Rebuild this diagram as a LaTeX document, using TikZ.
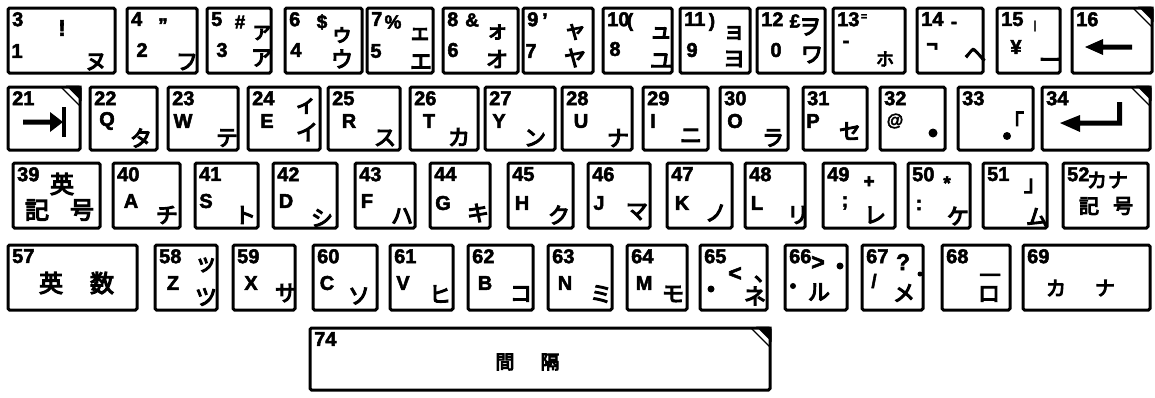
\documentclass[tikz,border=0pt]{standalone}
\usepackage{fontspec}
\setmainfont{Liberation Sans}[BoldFeatures={FakeBold=2.5}]
\newfontfamily\jpfont{Noto Sans CJK JP}[AutoFakeBold=5, BoldFeatures={FakeBold=2}]
\usetikzlibrary{fit}
\newcommand\kb[6]{%
  \node[keybox, fit={(#2,#3) (#4,#5)}] (#1) {};
  \node[code] (#1c) at ({#2+4},{#3+4}) {#6};}
\newcommand\ear[1]{%
  \draw[line width=1.2pt] ([xshift=-19pt]#1.north east) -- ([yshift=-19pt]#1.north east);
  \fill ([xshift=-14pt,yshift=1.5pt]#1.north east) -- ([xshift=1.5pt,yshift=1.5pt]#1.north east) -- ([xshift=1.5pt,yshift=-14pt]#1.north east) -- cycle;}
\newcommand\tx[5]{\node[#2] (#1) at (#3,#4) {#5};}
\begin{document}
\begin{tikzpicture}[x=1pt,y=-1pt,
  keybox/.style={draw, line width=3pt, rounded corners=1.5pt, inner sep=0pt, outer sep=0pt},
  code/.style={font=\fontsize{20}{20}\selectfont\bfseries, inner sep=0pt, anchor=north west},
  lat/.style={font=\fontsize{20}{20}\selectfont\bfseries, inner sep=0pt},
  sym/.style={font=\fontsize{19}{19}\selectfont\bfseries, inner sep=0pt},
  big/.style={font=\fontsize{23}{23}\selectfont\bfseries, inner sep=0pt},
  tiny/.style={font=\fontsize{11}{11}\selectfont\bfseries, inner sep=0pt},
  kana/.style={font=\fontsize{22}{22}\selectfont\jpfont\bfseries, inner sep=0pt},
  skana/.style={font=\fontsize{18}{18}\selectfont\jpfont\bfseries, inner sep=0pt},
  mkana/.style={font=\fontsize{20}{20}\selectfont\jpfont\bfseries, inner sep=0pt},
  kanji/.style={font=\fontsize{24}{24}\selectfont\jpfont\bfseries, inner sep=0pt},
  blackdot/.style={circle, fill, inner sep=0pt, minimum size=#1}]
\fill[white] (0,0) rectangle (1155,397);
\useasboundingbox (0,0) rectangle (1155,397);
% ---------- row 1
\kb{k3}{8}{8}{115}{73}{3}
\tx{k3s}{big}{62}{28}{!}\tx{k3d}{lat}{17}{51}{1}\tx{k3k}{kana}{96}{62}{ヌ}
\kb{k4}{127}{8}{197}{73}{4}
\tx{k4s}{sym}{163}{25}{"}\tx{k4d}{lat}{142}{50}{2}\tx{k4k}{kana}{187}{62}{フ}
\kb{k5}{207}{8}{271}{73}{5}
\tx{k5s}{sym}{240}{22}{\#}\tx{k5d}{lat}{222}{50}{3}\tx{k5t}{kana}{262}{33}{ァ}\tx{k5k}{kana}{262}{58}{ア}
\kb{k6}{285}{8}{362}{73}{6}
\tx{k6s}{sym}{322}{22}{\$}\tx{k6d}{lat}{296}{50}{4}\tx{k6t}{kana}{342}{35}{ゥ}\tx{k6k}{kana}{342}{59}{ウ}
\kb{k7}{367}{8}{433}{73}{7}
\tx{k7s}{sym}{393}{22}{\%}\tx{k7d}{lat}{376}{51}{5}\tx{k7t}{kana}{420}{34}{ェ}\tx{k7k}{kana}{421}{62}{エ}
\kb{k8}{443}{8}{518}{73}{8}
\tx{k8s}{sym}{472}{20}{\&}\tx{k8d}{lat}{453}{50}{6}\tx{k8t}{kana}{497}{32}{ォ}\tx{k8k}{kana}{497}{59}{オ}
\kb{k9}{523}{8}{593}{73}{9}
\tx{k9s}{sym}{545}{20}{’}\tx{k9d}{lat}{531}{51}{7}\tx{k9t}{kana}{575}{32}{ャ}\tx{k9k}{kana}{575}{58}{ヤ}
\kb{k10}{603}{8}{672}{73}{10}
\tx{k10s}{sym}{630}{22}{(}\tx{k10d}{lat}{615}{49}{8}\tx{k10t}{kana}{661}{33}{ュ}\tx{k10k}{kana}{661}{61}{ユ}
\kb{k11}{680}{8}{750}{73}{11}
\tx{k11s}{sym}{712}{22}{)}\tx{k11d}{lat}{692}{50}{9}\tx{k11t}{kana}{734}{33}{ョ}\tx{k11k}{kana}{734}{59}{ヨ}
\kb{k12}{757}{8}{825}{73}{12}
\tx{k12s}{sym}{795}{21}{£}\tx{k12d}{lat}{776}{50}{0}\tx{k12t}{kana}{810}{27}{ヲ}\tx{k12k}{kana}{812}{55}{ワ}
\kb{k13}{833}{8}{905}{73}{13}
\tx{k13s}{tiny}{864}{17}{=}\tx{k13d}{lat}{846}{44}{-}\tx{k13k}{skana}{885}{59}{ホ}
\kb{k14}{917}{8}{983}{73}{14}
\tx{k14s}{sym}{954}{25}{-}\tx{k14d}{lat}{932}{47}{¬}\tx{k14k}{kana}{975}{55}{ヘ}
\kb{k15}{997}{8}{1060}{73}{15}
\tx{k15s}{tiny}{1035}{26}{|}\tx{k15d}{lat}{1016}{47}{¥}\tx{k15k}{kana}{1050}{63}{ー}
\kb{k16}{1072}{8}{1152}{73}{16}
\ear{k16}
\fill (1085,47) -- (1103,39) -- (1103,44.5) -- (1132,44.5) -- (1132,49.5) -- (1103,49.5) -- (1103,55) -- cycle;
% ---------- row 2
\kb{k21}{8}{87}{80}{150}{21}
\ear{k21}
\fill (23,119.5) -- (50,119.5) -- (50,112) -- (63,122) -- (50,132) -- (50,124.5) -- (23,124.5) -- cycle;
\fill (62,107) rectangle (66,137);
\kb{k22}{90}{87}{157}{150}{22}\tx{k22l}{lat}{107}{121}{Q}\tx{k22k}{kana}{141}{138}{タ}
\kb{k23}{168}{87}{238}{150}{23}\tx{k23l}{lat}{183}{121}{W}\tx{k23k}{kana}{227}{138}{テ}
\kb{k24}{248}{87}{320}{150}{24}\tx{k24l}{lat}{267}{121}{E}\tx{k24t}{kana}{306}{106}{ィ}\tx{k24k}{kana}{307}{132}{イ}
\kb{k25}{328}{87}{400}{150}{25}\tx{k25l}{lat}{349}{121}{R}\tx{k25k}{kana}{385}{138}{ス}
\kb{k26}{410}{87}{478}{150}{26}\tx{k26l}{lat}{429}{121}{T}\tx{k26k}{kana}{459}{137}{カ}
\kb{k27}{485}{87}{555}{150}{27}\tx{k27l}{lat}{499}{121}{Y}\tx{k27k}{kana}{535}{138}{ン}
\kb{k28}{562}{87}{632}{150}{28}\tx{k28l}{lat}{581}{121}{U}\tx{k28k}{kana}{618}{138}{ナ}
\kb{k29}{643}{87}{708}{150}{29}\tx{k29l}{lat}{653}{121}{I}\tx{k29k}{kana}{691}{136}{ニ}
\kb{k30}{720}{87}{788}{150}{30}\tx{k30l}{lat}{735}{121}{O}\tx{k30k}{kana}{773}{138}{ラ}
\kb{k31}{803}{87}{867}{150}{31}\tx{k31l}{lat}{813}{121}{P}\tx{k31k}{kana}{850}{131}{セ}
\kb{k32}{880}{87}{945}{150}{32}\tx{k32l}{font=\fontsize{17}{17}\selectfont\bfseries, inner sep=0pt}{895}{121}{@}
\node[blackdot=9pt] (k32d) at (933,133) {};
\kb{k33}{958}{87}{1033}{150}{33}\tx{k33t}{kana}{1013}{121}{「}
\node[blackdot=8pt] (k33d) at (1007,136) {};
\kb{k34}{1042}{87}{1150}{150}{34}
\ear{k34}
\fill (1060,123) -- (1080,115) -- (1080,120.5) -- (1117,120.5) -- (1117,102) -- (1122,102) -- (1122,125.5) -- (1080,125.5) -- (1080,132) -- cycle;
% ---------- row 3
\kb{k39}{13}{163}{100}{228}{39}
\tx{k39a}{kanji}{62}{184}{英}\tx{k39b}{kanji}{37}{210}{記}\tx{k39c}{kanji}{82}{210}{号}
\kb{k40}{113}{163}{180}{228}{40}\tx{k40l}{lat}{131}{201}{A}\tx{k40k}{kana}{167}{215}{チ}
\kb{k41}{195}{163}{258}{228}{41}\tx{k41l}{lat}{206}{201}{S}\tx{k41k}{kana}{245}{215}{ト}
\kb{k42}{273}{163}{337}{228}{42}\tx{k42l}{lat}{286}{201}{D}\tx{k42k}{kana}{322}{218}{シ}
\kb{k43}{355}{163}{415}{228}{43}\tx{k43l}{lat}{367}{201}{F}\tx{k43k}{kana}{402}{216}{ハ}
\kb{k44}{430}{163}{490}{228}{44}\tx{k44l}{lat}{443}{203}{G}\tx{k44k}{kana}{478}{213}{キ}
\kb{k45}{508}{163}{573}{228}{45}\tx{k45l}{lat}{522}{203}{H}\tx{k45k}{kana}{559}{215}{ク}
\kb{k46}{588}{163}{650}{228}{46}\tx{k46l}{lat}{599}{203}{J}\tx{k46k}{kana}{637}{212}{マ}
\kb{k47}{667}{163}{732}{228}{47}\tx{k47l}{lat}{682}{203}{K}\tx{k47k}{kana}{716}{213}{ノ}
\kb{k48}{745}{163}{805}{228}{48}\tx{k48l}{lat}{757}{203}{L}\tx{k48k}{kana}{798}{215}{リ}
\kb{k49}{823}{163}{895}{228}{49}\tx{k49s}{sym}{869}{182}{+}\tx{k49l}{lat}{845}{203}{;}\tx{k49k}{kana}{875}{215}{レ}
\kb{k50}{908}{163}{970}{228}{50}\tx{k50s}{sym}{947}{183}{*}\tx{k50l}{lat}{919}{205}{:}\tx{k50k}{kana}{958}{216}{ケ}
\kb{k51}{983}{163}{1047}{228}{51}\tx{k51t}{kana}{1035}{186}{」}\tx{k51k}{kana}{1037}{217}{ム}
\kb{k52}{1063}{163}{1148}{228}{52}
\tx{k52a}{mkana}{1097}{180}{カ}\tx{k52b}{mkana}{1118}{180}{ナ}
\tx{k52c}{mkana}{1089}{206}{記}
\tx{k52d}{mkana}{1123}{206}{号}
% ---------- row 4
\kb{k57}{8}{245}{137}{310}{57}
\tx{k57a}{kanji}{51}{283}{英}\tx{k57b}{kanji}{102}{283}{数}
\kb{k58}{155}{245}{217}{310}{58}\tx{k58t}{kana}{206}{265}{ッ}\tx{k58l}{lat}{173}{283}{Z}\tx{k58k}{kana}{206}{297}{ツ}
\kb{k59}{233}{245}{295}{310}{59}\tx{k59l}{lat}{251}{283}{X}\tx{k59k}{kana}{286}{293}{サ}
\kb{k60}{313}{245}{377}{310}{60}\tx{k60l}{lat}{327}{283}{C}\tx{k60k}{kana}{359}{296}{ソ}
\kb{k61}{390}{245}{453}{310}{61}\tx{k61l}{lat}{403}{283}{V}\tx{k61k}{kana}{440}{294}{ヒ}
\kb{k62}{468}{245}{533}{310}{62}\tx{k62l}{lat}{485}{283}{B}\tx{k62k}{kana}{521}{294}{コ}
\kb{k63}{548}{245}{612}{310}{63}\tx{k63l}{lat}{565}{283}{N}\tx{k63k}{kana}{601}{294}{ミ}
\kb{k64}{627}{245}{687}{310}{64}\tx{k64l}{lat}{644}{283}{M}\tx{k64k}{kana}{673}{294}{モ}
\kb{k65}{700}{245}{767}{310}{65}\tx{k65s}{big}{735}{274}{<}\tx{k65t}{kana}{765}{279}{、}
\node[blackdot=7pt] (k65d) at (711,289) {};\tx{k65k}{kana}{755}{296}{ネ}
\kb{k66}{785}{245}{847}{310}{66}\tx{k66s}{big}{818}{263}{>}
\node[blackdot=7pt] (k66t) at (840,266) {};\node[blackdot=6pt] (k66d) at (793,286) {};
\tx{k66k}{kana}{819}{292}{ル}
\kb{k67}{862}{245}{923}{310}{67}\tx{k67s}{big}{903}{262}{?}
\node[blackdot=5pt] (k67t) at (920,274) {};\tx{k67l}{sym}{874}{281}{/}\tx{k67k}{kana}{904}{293}{メ}
\kb{k68}{942}{245}{1010}{310}{68}\tx{k68s}{lat}{990}{277}{—}\tx{k68k}{kana}{989}{294}{ロ}
\kb{k69}{1023}{245}{1150}{310}{69}
\tx{k69a}{mkana}{1056}{288}{カ}\tx{k69b}{mkana}{1105}{288}{ナ}
% ---------- space
\kb{k74}{310}{328}{770}{390}{74}
\ear{k74}
\tx{k74a}{font=\fontsize{19}{19}\selectfont\jpfont\bfseries, inner sep=0pt}{505}{362}{間}
\tx{k74b}{font=\fontsize{19}{19}\selectfont\jpfont\bfseries, inner sep=0pt}{550}{362}{隔}
\end{tikzpicture}
\end{document}
